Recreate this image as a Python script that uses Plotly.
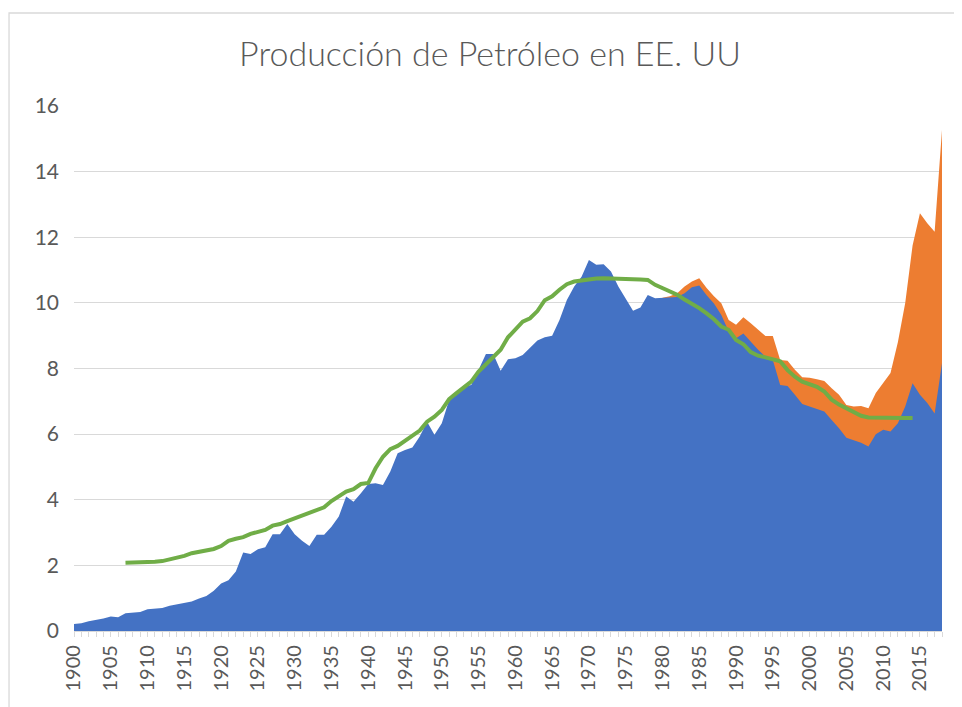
import plotly.graph_objects as go

# ---------------- data ----------------
years = list(range(1900, 2019))

blue_values = [
    0.21, 0.24, 0.30, 0.33, 0.38, 0.44, 0.42, 0.54, 0.57, 0.58,   # 1900-1909
    0.66, 0.69, 0.70, 0.77, 0.82, 0.86, 0.90, 0.99, 1.07, 1.23,   # 1910-1919
    1.45, 1.55, 1.81, 2.39, 2.35, 2.49, 2.55, 2.95, 2.95, 3.26,   # 1920-1929
    2.95, 2.75, 2.59, 2.93, 2.93, 3.18, 3.49, 4.10, 3.94, 4.20,   # 1930-1939
    4.48, 4.50, 4.45, 4.86, 5.42, 5.52, 5.59, 5.93, 6.38, 5.98,   # 1940-1949
    6.33, 7.04, 7.27, 7.45, 7.50, 7.96, 8.44, 8.44, 7.93, 8.28,   # 1950-1959
    8.31, 8.41, 8.62, 8.85, 8.95, 9.00, 9.48, 10.09, 10.50, 10.80,  # 1960-1969
    11.31, 11.16, 11.18, 10.96, 10.50, 10.11, 9.76, 9.86, 10.24, 10.14,  # 1970-1979
    10.16, 10.16, 10.18, 10.29, 10.48, 10.53, 10.23, 9.98, 9.63, 9.13,  # 1980-1989
    8.92, 9.07, 8.82, 8.57, 8.36, 8.26, 7.50, 7.47, 7.20, 6.92,   # 1990-1999
    6.84, 6.76, 6.69, 6.43, 6.18, 5.89, 5.82, 5.74, 5.62, 6.00,   # 2000-2009
    6.13, 6.08, 6.33, 6.84, 7.55, 7.20, 6.95, 6.63, 8.16,         # 2010-2018
]

orange_years = list(range(1980, 2019))
orange_values = [
    10.16, 10.20, 10.29, 10.50, 10.65, 10.75, 10.45, 10.20, 9.99, 9.48,  # 1980-1989
    9.33, 9.56, 9.38, 9.18, 8.99, 8.99, 8.26, 8.24, 7.96, 7.73,         # 1990-1999
    7.72, 7.67, 7.62, 7.40, 7.20, 6.89, 6.84, 6.86, 6.79, 7.25,         # 2000-2009
    7.55, 7.86, 8.80, 10.00, 11.75, 12.73, 12.43, 12.17, 15.27,         # 2010-2018
]

green_years = list(range(1907, 2015))
green_values = [
    2.08, 2.08, 2.09,                                               # 1907-1909
    2.09, 2.11, 2.13, 2.18, 2.24, 2.29, 2.37, 2.42, 2.47, 2.50,     # 1910-1919
    2.59, 2.75, 2.81, 2.86, 2.96, 3.02, 3.08, 3.21, 3.26, 3.35,     # 1920-1929
    3.43, 3.51, 3.59, 3.67, 3.77, 3.96, 4.10, 4.25, 4.32, 4.48,     # 1930-1939
    4.51, 4.96, 5.31, 5.54, 5.64, 5.80, 5.93, 6.11, 6.38, 6.53,     # 1940-1949
    6.74, 7.07, 7.25, 7.43, 7.60, 7.91, 8.13, 8.31, 8.57, 8.95,     # 1950-1959
    9.18, 9.43, 9.53, 9.75, 10.08, 10.20, 10.40, 10.57, 10.65, 10.69,  # 1960-1969
    10.72, 10.74, 10.75, 10.75, 10.74, 10.73, 10.72, 10.71, 10.70, 10.55,  # 1970-1979
    10.45, 10.35, 10.25, 10.10, 9.98, 9.84, 9.68, 9.50, 9.28, 9.18,  # 1980-1989
    8.87, 8.74, 8.50, 8.39, 8.34, 8.27, 8.22, 7.95, 7.75, 7.60,     # 1990-1999
    7.52, 7.44, 7.30, 7.05, 6.90, 6.79, 6.65, 6.56, 6.51, 6.50,     # 2000-2009
    6.50, 6.50, 6.49, 6.49, 6.49,                                   # 2010-2014
]

x_tick_values = list(range(1900, 2016, 5))
x_tick_labels = [str(v) for v in x_tick_values]
y_tick_values = [0, 2, 4, 6, 8, 10, 12, 14, 16]
y_tick_labels = [str(v) for v in y_tick_values]

title_text = "Producción de Petróleo en EE. UU"

# ---------------- figure ----------------
# The page body adds an 8 px offset; layout numbers below are in figure pixels.
W, H = 962, 707
L, R, T, B = 66, 27.5, 98, 84
pw = W - L - R
ph = H - T - B

fig = go.Figure()

fig.add_trace(go.Scatter(
    x=orange_years, y=orange_values, mode="lines",
    line=dict(width=0, color="#ED7D31"),
    fill="tozeroy", fillcolor="#ED7D31",
    hoverinfo="skip", showlegend=False,
))
fig.add_trace(go.Scatter(
    x=years, y=blue_values, mode="lines",
    line=dict(width=0, color="#4472C4"),
    fill="tozeroy", fillcolor="#4472C4",
    hoverinfo="skip", showlegend=False,
))
fig.add_trace(go.Scatter(
    x=green_years, y=green_values, mode="lines",
    line=dict(width=4, color="#70AD47"),
    hoverinfo="skip", showlegend=False,
))

grey = "#595959"
fig.update_layout(
    width=W, height=H,
    margin=dict(l=L, r=R, t=T, b=B, pad=0),
    paper_bgcolor="white", plot_bgcolor="white",
    font=dict(family="Lato", color=grey),
    title=dict(
        text=title_text, xref="container", yref="container",
        x=482 / W, y=1 - 46 / H, xanchor="center", yanchor="middle",
        font=dict(family="Lato", size=34, color=grey, weight=300),
    ),
    showlegend=False,
    xaxis=dict(
        range=[1900, 2018], tickmode="array",
        tickvals=x_tick_values, ticktext=x_tick_labels,
        tickangle=-90, tickfont=dict(size=20, color=grey),
        showgrid=False, zeroline=False,
        showline=True, linecolor="#D9D9D9", linewidth=1.3,
        ticks="outside", ticklen=5, tickcolor="#D9D9D9", tickwidth=1.3,
        minor=dict(dtick=1, tick0=1900, ticks="outside", ticklen=5,
                   tickcolor="#D9D9D9", tickwidth=1.3, showgrid=False),
        layer="above traces",
    ),
    yaxis=dict(
        range=[0, 16], tickmode="array",
        tickvals=y_tick_values, ticktext=y_tick_labels,
        tickfont=dict(size=21, color=grey),
        showgrid=True, gridcolor="#D9D9D9", gridwidth=1.3,
        zeroline=False, showline=False, ticks="",
        ticklabelstandoff=14,
    ),
)

# chart area border (extends past the bottom/right of the picture)
fig.add_shape(
    type="rect", xref="paper", yref="paper",
    x0=(1 - L) / pw, x1=(W + 20 - L) / pw,
    y0=-(B + 20) / ph,
    y1=(H - B - 5) / ph,
    line=dict(color="#D9D9D9", width=1.3), fillcolor="rgba(0,0,0,0)",
    layer="below",
)

fig.write_html("out.html")
